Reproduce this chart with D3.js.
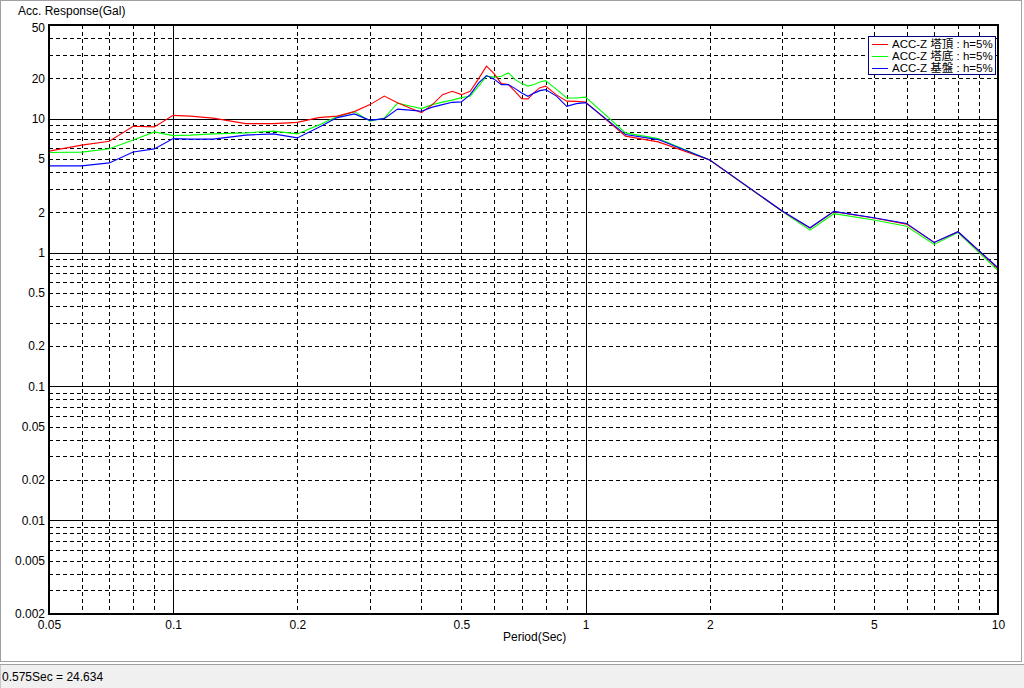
<!DOCTYPE html>
<html><head><meta charset="utf-8">
<script src="https://cdn.jsdelivr.net/npm/d3@7"></script>
<style>
html,body{margin:0;padding:0;background:#fff;overflow:hidden;}
svg{display:block;font-family:"Liberation Sans",Arial,"Noto Sans CJK JP",sans-serif;}
</style></head><body>
<svg id="c" width="1024" height="688"></svg>
<script>
// ---- data ----
const periods = [0.05,0.06,0.07,0.08,0.09,0.1,0.11,0.125,0.15,0.175,0.2,0.225,0.25,0.275,0.3,0.325,0.35,0.375,0.4,0.425,0.45,0.475,0.5,0.525,0.55,0.575,0.6,0.625,0.65,0.675,0.7,0.725,0.75,0.775,0.8,0.85,0.9,0.95,1.0,1.25,1.5,2.0,3.0,3.5,4.0,5.0,6.0,7.0,8.0,10.0];
const accTop = [5.72,6.34,6.77,8.76,8.67,10.58,10.44,10.09,9.18,9.18,9.38,10.17,10.44,11.28,12.72,14.72,13.16,12.02,11.09,12.72,15.10,15.99,15.10,15.99,19.79,24.634,21.67,18.25,17.94,15.91,14.10,14.03,15.63,17.03,17.48,15.03,13.51,13.46,13.28,7.40,6.70,4.90,2.03,1.52,2.02,1.81,1.63,1.19,1.43,0.76];
const accBottom = [5.58,5.62,5.95,6.91,7.96,7.47,7.53,7.69,7.83,8.07,7.69,8.94,10.35,11.28,9.58,10.09,13.05,12.44,11.87,12.72,13.28,13.74,14.35,14.67,17.48,20.76,20.40,20.69,21.93,19.55,18.25,17.48,18.00,18.79,19.21,16.52,14.27,14.27,14.47,7.82,7.09,4.90,2.02,1.47,1.95,1.75,1.57,1.15,1.41,0.734];
const accBase = [4.44,4.44,4.67,5.64,5.94,7.09,7.03,7.03,7.53,7.69,7.18,8.57,10.17,10.84,9.71,10.0,11.77,11.57,11.34,12.18,12.72,13.23,13.33,15.10,18.40,20.94,19.71,17.94,17.94,16.75,15.55,14.67,15.50,16.18,16.46,14.72,12.35,12.94,13.16,7.60,6.97,4.92,2.04,1.53,2.03,1.82,1.65,1.19,1.43,0.769];
const seriesNames = ["ACC-Z 塔頂 : h=5%","ACC-Z 塔底 : h=5%","ACC-Z 基盤 : h=5%"];
const seriesColors = ["#ff0000","#00ff00","#0000ff"];
const xTickLabels = [0.05,0.1,0.2,0.5,1,2,5,10];
const yTickLabels = [50,20,10,5,2,1,0.5,0.2,0.1,0.05,0.02,0.01,0.005,0.002];
const xTitle = "Period(Sec)";
const yTitle = "Acc. Response(Gal)";
const statusText = "0.575Sec = 24.634";

// ---- drawing ----
const svg = d3.select("#c");
const L=49, R=998, T=25, B=614;
const x = d3.scaleLog().domain([0.05,10]).range([L,R]);
const y = d3.scaleLog().domain([0.002,50]).range([B,T]);

// window frame & status bar
svg.append("rect").attr("x",0.5).attr("y",0.5).attr("width",1021).attr("height",661)
  .attr("fill","#fff").attr("stroke","#a0a0a0");
svg.append("rect").attr("x",0).attr("y",664).attr("width",1024).attr("height",24).attr("fill","#f0f0f0");
svg.append("line").attr("x1",0).attr("x2",1024).attr("y1",664.5).attr("y2",664.5).attr("stroke","#a0a0a0");
svg.append("line").attr("x1",0.5).attr("x2",0.5).attr("y1",665).attr("y2",688).attr("stroke","#c8c8c8");
svg.append("text").attr("x",2).attr("y",681).attr("font-size",12).attr("fill","#000").text(statusText);

// grid
function gridVals(decs, lo, hi){
  const out=[];
  decs.forEach(d=>{ for(let m=1;m<=9;m++){ const v=+(m*d).toPrecision(6); if(v>lo*1.0001 && v<hi*0.9999) out.push({v, major:m===1}); } });
  return out;
}
const xg = gridVals([0.01,0.1,1],0.05,10);
const yg = gridVals([0.001,0.01,0.1,1,10],0.002,50);
const g = svg.append("g").attr("shape-rendering","crispEdges");
g.selectAll(".gx").data(xg).join("line")
  .attr("x1",d=>Math.round(x(d.v))+0.5).attr("x2",d=>Math.round(x(d.v))+0.5)
  .attr("y1",T).attr("y2",B).attr("stroke","#000").attr("stroke-width",1)
  .attr("stroke-dasharray",d=>d.major?null:"4,3");
g.selectAll(".gy").data(yg).join("line")
  .attr("y1",d=>Math.round(y(d.v))+0.5).attr("y2",d=>Math.round(y(d.v))+0.5)
  .attr("x1",L).attr("x2",R).attr("stroke","#000").attr("stroke-width",1)
  .attr("stroke-dasharray",d=>d.major?null:"4,3");

// axes labels
const fmt = d=>String(d);
const ax = svg.append("g").attr("transform",`translate(0,${B+6})`)
  .call(d3.axisBottom(x).tickValues(xTickLabels).tickFormat(fmt).tickSize(0).tickPadding(0));
ax.select(".domain").remove();
ax.selectAll("text").attr("font-size",12).attr("font-family",null).attr("fill","#000").attr("dy","0.71em");
const ay = svg.append("g").attr("transform",`translate(${L-4},0)`)
  .call(d3.axisLeft(y).tickValues(yTickLabels).tickFormat(fmt).tickSize(0).tickPadding(0));
ay.select(".domain").remove();
ay.selectAll("text").attr("font-size",12).attr("font-family",null).attr("fill","#000");
// keep the top label clear of the title
ay.selectAll(".tick").filter(d=>d===50).select("text").attr("dy","0.55em");

svg.append("text").attr("x",503).attr("y",641).attr("font-size",12).text(xTitle);
svg.append("text").attr("x",18).attr("y",15).attr("font-size",12).text(yTitle);

// series
svg.append("clipPath").attr("id","clip").append("rect").attr("x",L).attr("y",T).attr("width",R-L).attr("height",B-T);
const line = d3.line().x(d=>x(d[0])).y(d=>y(d[1]));
const seriesData = [accTop, accBottom, accBase];
const drawOrder = [1,0,2];
const sg = svg.append("g").attr("clip-path","url(#clip)");
drawOrder.forEach(i=>{
  sg.append("path").datum(periods.map((p,k)=>[p,seriesData[i][k]]))
    .attr("d",line).attr("fill","none").attr("stroke",seriesColors[i]).attr("stroke-width",1.1);
});

// frame
svg.append("rect").attr("x",L).attr("y",T).attr("width",R-L).attr("height",B-T)
  .attr("fill","none").attr("stroke","#000").attr("stroke-width",2).attr("shape-rendering","crispEdges");

// legend
const lg = svg.append("g");
lg.append("rect").attr("x",868.5).attr("y",36.5).attr("width",127).attr("height",38)
  .attr("fill","#fff").attr("stroke","#000080").attr("stroke-width",1).attr("shape-rendering","crispEdges");
seriesNames.forEach((n,i)=>{
  const cy = 43.5 + i*12;
  lg.append("line").attr("x1",872).attr("x2",888).attr("y1",Math.round(cy)+0.5).attr("y2",Math.round(cy)+0.5)
    .attr("stroke",seriesColors[i]).attr("stroke-width",1).attr("shape-rendering","crispEdges");
  lg.append("text").attr("x",892).attr("y",cy).attr("dy","0.35em").attr("font-size",11.5).text(n);
});
</script>
</body></html>
